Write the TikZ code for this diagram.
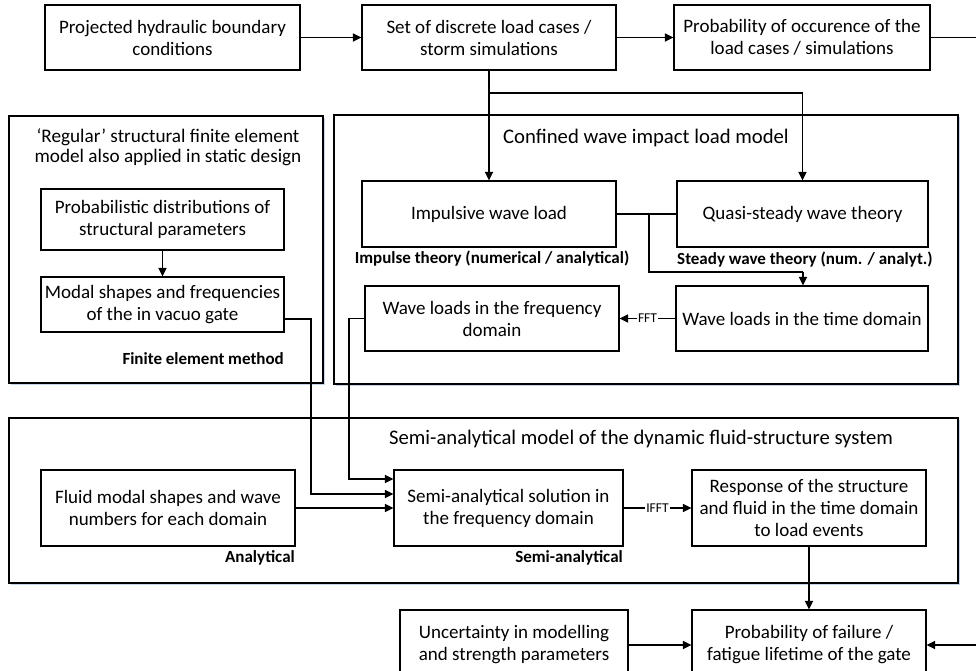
\documentclass[tikz,border=0pt]{standalone}
\usepackage{fontspec}
\setmainfont{Carlito}
\usetikzlibrary{arrows.meta,shadows,calc}
\definecolor{shadowc}{RGB}{196,212,234}
\begin{document}
\begin{tikzpicture}[x=1pt,y=-1pt,
  box/.style={draw,line width=1.1pt,fill=white,align=center,font=\fontsize{19}{22}\selectfont,inner sep=0pt},
  cont/.style={draw,line width=1.1pt,fill=white,inner sep=0pt,drop shadow={shadow xshift=2pt,shadow yshift=-2pt,fill=shadowc,opacity=1}},
  ttl/.style={align=center,font=\fontsize{20.7}{20.5}\selectfont,inner sep=0pt},
  blbl/.style={font=\fontsize{17}{19}\selectfont\bfseries,inner sep=0pt},
  lbl/.style={fill=white,font=\fontsize{13.5}{15}\selectfont,inner sep=1pt},
  arr/.style={line width=1.4pt,-{Triangle[length=8.5pt,width=8pt]}},
  ln/.style={line width=1.4pt}]
\useasboundingbox (0,0) rectangle (976,670);
\clip (0,0) rectangle (976,670);

% containers
\node[cont,minimum width=314pt,minimum height=267pt] (L) at (166,249.5) {};
\node[cont,minimum width=624pt,minimum height=269pt] (W) at (646,249.5) {};
\node[cont,minimum width=949pt,minimum height=165pt] (S) at (483.5,500.5) {};

\node[ttl,font=\fontsize{19.2}{20.5}\selectfont] (Lt) at (168,147) {‘Regular’ structural finite element\\model also applied in static design};
\node[ttl] (Wt) at (646,138) {Confined wave impact load model};
\node[ttl] (St) at (641,439) {Semi-analytical model of the dynamic fluid-structure system};

% top row
\node[box,minimum width=255pt,minimum height=65pt] (A) at (172.5,37.5) {Projected hydraulic boundary\\conditions};
\node[box,minimum width=254pt,minimum height=65pt] (B) at (489,37.5) {Set of discrete load cases /\\storm simulations};
\node[box,minimum width=256pt,minimum height=65pt] (C) at (802,37.5) {Probability of occurence of the\\load cases / simulations};

% left container
\node[box,minimum width=243pt,minimum height=61pt] (P) at (162.5,219.5) {Probabilistic distributions of\\structural parameters};
\node[box,minimum width=243pt,minimum height=55pt] (M) at (162.5,304.5) {Modal shapes and frequencies\\of the in vacuo gate};
\node[blbl,anchor=east] (Mfem) at (284,359) {Finite element method};

% wave container
\node[box,minimum width=254pt,minimum height=66pt] (Imp) at (489,214) {Impulsive wave load};
\node[box,minimum width=251pt,minimum height=66pt] (Q) at (802.5,214) {Quasi-steady wave theory};
\node[blbl] (Impl) at (492,259) {Impulse theory (numerical / analytical)};
\node[blbl,anchor=west] (Ql) at (677,260) {Steady wave theory (num. / analyt.)};
\node[box,minimum width=252pt,minimum height=65pt] (T) at (802,318.5) {Wave loads in the time domain};
\node[box,minimum width=254pt,minimum height=65pt] (F) at (492,318.5) {Wave loads in the frequency\\domain};

% semi container
\node[box,minimum width=254pt,minimum height=76pt] (Fl) at (168,508) {Fluid modal shapes and wave\\numbers for each domain};
\node[blbl,anchor=east] (Fll) at (295,558) {Analytical};
\node[box,minimum width=229pt,minimum height=76pt] (Se) at (508.5,508) {Semi-analytical solution in\\the frequency domain};
\node[blbl,anchor=east] (Sel) at (623,558) {Semi-analytical};
\node[box,minimum width=234pt,minimum height=76pt] (R) at (809,508) {Response of the structure\\and fluid in the time domain\\to load events};

% bottom row
\node[box,minimum width=234pt,minimum height=70pt] (Fa) at (809,645) {Probability of failure /\\fatigue lifetime of the gate};
\node[box,minimum width=228pt,minimum height=70pt] (U) at (514,645) {Uncertainty in modelling\\and strength parameters};

% coordinates
\coordinate (j1) at (489,93);
\coordinate (j2) at (649,214);
\coordinate (j3) at (803,272);
\coordinate (y319) at (0,319);
\coordinate (f1) at (349,479);
\coordinate (m1) at (311,494);
\coordinate (r1) at (1000,37.5);

% connectors
\draw[arr] (A) -- (B);
\draw[arr] (B) -- (C);
\draw[arr] (C.east) -- (r1) |- (Fa.east);
\draw[arr] (B.south) -- (Imp.north);
\draw[arr] (j1) -| (Q.north);
\draw[arr] (P) -- (M);
\draw[ln] (Imp.east) -- (Q.west);
\draw[ln] (j2) |- (j3);
\draw[arr] (j3) -- (j3 |- T.north);
\draw[arr] (T) -- node[lbl] {FFT} (F);
\draw[arr] (F.west) -| (f1) -- (Se.west |- f1);
\draw[arr] (M.east |- y319) -| (m1) -- (Se.west |- m1);
\draw[arr] (Fl) -- (Se);
\draw[arr] (Se) -- node[lbl] {IFFT} (R);
\draw[arr] (R) -- (Fa);
\draw[arr] (U) -- (Fa);
\end{tikzpicture}
\end{document}
